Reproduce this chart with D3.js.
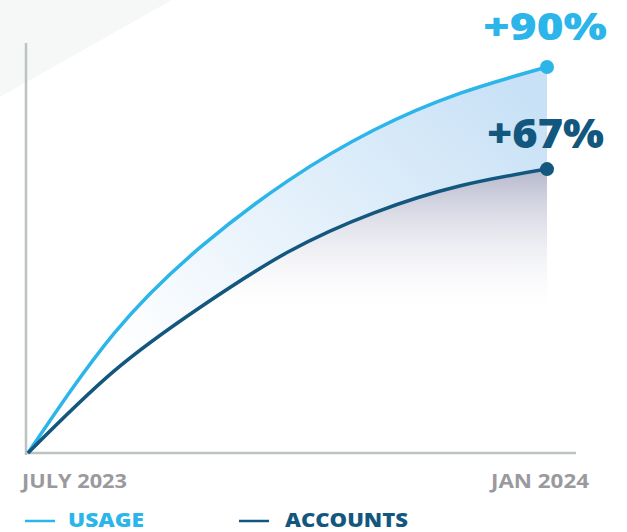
<!DOCTYPE html>
<html lang="en">
  <head>
    <meta charset="UTF-8" />
    <title>Usage vs Accounts</title>
    <script src="https://cdn.jsdelivr.net/npm/d3@7"></script>
    <style>
      html, body { margin: 0; padding: 0; background: #fff; }
      svg { display: block; font-family: 'Open Sans', 'Noto Sans', sans-serif; }
    </style>
  </head>
  <body>
    <div id="chart"></div>
    <script>
      // months from July 2023 to Jan 2024, growth in %
      const months = ['JUL', 'AUG', 'SEP', 'OCT', 'NOV', 'DEC', 'JAN']
      const usage = [0, 28, 48.1, 63.4, 75.3, 83.9, 90]
      const accounts = [0, 19.2, 34.1, 46.8, 56, 62.3, 66.2]
      const tickLabels = ['JULY 2023', 'JAN 2024']
      const endLabels = ['+90%', '+67%']
      const seriesNames = ['USAGE', 'ACCOUNTS']

      const W = 627, H = 532
      const colUsage = '#2bb5e9', colAcc = '#13577f'

      const svg = d3.select('#chart').append('svg')
        .attr('width', W).attr('height', H)

      // faint background wedge
      svg.append('path')
        .attr('d', 'M0,0L172,0L0,97Z')
        .attr('fill', '#f6f8f8')

      const x = d3.scaleLinear().domain([0, months.length - 1]).range([28, 547])
      const y = d3.scaleLinear().domain([0, 90]).range([453, 67])

      const defs = svg.append('defs')
      const gBand = defs.append('linearGradient').attr('id', 'band')
        .attr('gradientUnits', 'userSpaceOnUse')
        .attr('x1', 500).attr('y1', 70).attr('x2', 200).attr('y2', 420)
      gBand.append('stop').attr('offset', 0).attr('stop-color', '#c8e1f6')
      gBand.append('stop').attr('offset', 1).attr('stop-color', '#ffffff')

      const gShade = defs.append('linearGradient').attr('id', 'shade')
        .attr('gradientUnits', 'userSpaceOnUse')
        .attr('x1', 0).attr('y1', 170).attr('x2', 0).attr('y2', 320)
      gShade.append('stop').attr('offset', 0).attr('stop-color', '#aeb1c8').attr('stop-opacity', 0.9)
      gShade.append('stop').attr('offset', 1).attr('stop-color', '#ffffff').attr('stop-opacity', 0)

      const idx = d3.range(months.length)
      const curve = d3.curveNatural

      // shadow under accounts
      svg.append('path')
        .attr('d', d3.area().curve(curve)
          .x(i => x(i)).y0(y(0)).y1(i => y(accounts[i]))(idx))
        .attr('fill', 'url(#shade)')

      // band between the two lines
      svg.append('path')
        .attr('d', d3.area().curve(curve)
          .x(i => x(i)).y0(i => y(accounts[i])).y1(i => y(usage[i]))(idx))
        .attr('fill', 'url(#band)')

      // axes
      svg.append('line')
        .attr('x1', 26).attr('x2', 26).attr('y1', 43).attr('y2', 455)
        .attr('stroke', '#bcc1c4').attr('stroke-width', 2.5)
      svg.append('line')
        .attr('x1', 25).attr('x2', 576).attr('y1', y(0)).attr('y2', y(0))
        .attr('stroke', '#bcc1c4').attr('stroke-width', 2.5)

      const line = d3.line().curve(curve).x(i => x(i))
      const series = [
        { vals: usage, col: colUsage },
        { vals: accounts, col: colAcc }
      ]
      series.forEach(s => {
        svg.append('path')
          .attr('d', line.y(i => y(s.vals[i]))(idx))
          .attr('fill', 'none')
          .attr('stroke', s.col)
          .attr('stroke-width', 3.5)
        svg.append('circle')
          .attr('cx', x(idx.length - 1)).attr('cy', y(s.vals[s.vals.length - 1]))
          .attr('r', 7).attr('fill', s.col)
      })

      // end labels
      svg.append('text')
        .attr('x', 607).attr('y', 40).attr('text-anchor', 'end')
        .attr('font-size', 37).attr('font-weight', 800).attr('fill', colUsage)
        .attr('textLength', 124).attr('lengthAdjust', 'spacingAndGlyphs')
        .text(endLabels[0])
      svg.append('text')
        .attr('x', 604).attr('y', 148).attr('text-anchor', 'end')
        .attr('font-size', 41).attr('font-weight', 800).attr('fill', colAcc)
        .attr('textLength', 117).attr('lengthAdjust', 'spacingAndGlyphs')
        .text(endLabels[1])

      // tick labels
      svg.append('text')
        .attr('x', 22).attr('y', 488)
        .attr('font-size', 20).attr('font-weight', 700).attr('fill', '#9a9a9e')
        .attr('textLength', 105).attr('lengthAdjust', 'spacingAndGlyphs')
        .text(tickLabels[0])
      svg.append('text')
        .attr('x', 589).attr('y', 488).attr('text-anchor', 'end')
        .attr('font-size', 20).attr('font-weight', 700).attr('fill', '#9a9a9e')
        .attr('textLength', 98).attr('lengthAdjust', 'spacingAndGlyphs')
        .text(tickLabels[1])

      // legend
      const legend = [
        { name: seriesNames[0], col: colUsage, lx: 25, tx: 68, tw: 76 },
        { name: seriesNames[1], col: colAcc, lx: 239, tx: 285, tw: 123 }
      ]
      legend.forEach(l => {
        svg.append('line')
          .attr('x1', l.lx).attr('x2', l.lx + 30).attr('y1', 521).attr('y2', 521)
          .attr('stroke', l.col).attr('stroke-width', 2.5)
        svg.append('text')
          .attr('x', l.tx).attr('y', 527)
          .attr('font-size', 20).attr('font-weight', 800).attr('fill', l.col)
          .attr('textLength', l.tw).attr('lengthAdjust', 'spacingAndGlyphs')
          .text(l.name)
      })
    </script>
  </body>
</html>
